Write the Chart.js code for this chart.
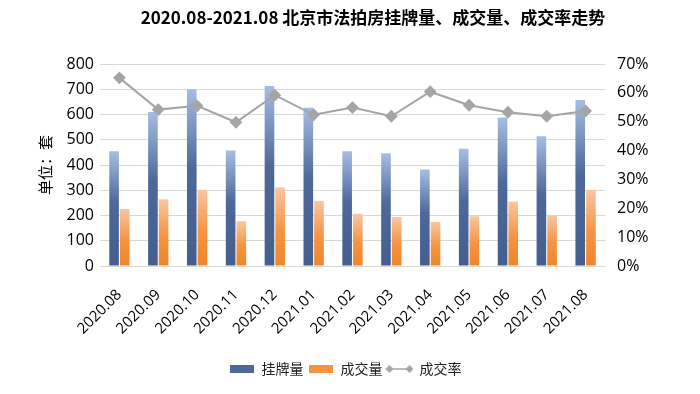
<!DOCTYPE html>
<html><head><meta charset="utf-8">
<script src="https://cdn.jsdelivr.net/npm/chart.js@4"></script>
<style>html,body{margin:0;padding:0;background:#fff}#wrap{width:700px;height:394px}</style>
</head><body><div id="wrap"><canvas id="c" width="700" height="394"></canvas></div>
<script>
const categories = ["2020.08","2020.09","2020.10","2020.11","2020.12","2021.01","2021.02","2021.03","2021.04","2021.05","2021.06","2021.07","2021.08"];
const listed = [454, 610, 700, 457, 713, 627, 454, 447, 382, 464, 588, 514, 657];
const sold = [226, 264, 302, 177, 311, 258, 207, 194, 175, 197, 255, 201, 302];
const rate = [0.652, 0.542, 0.555, 0.498, 0.592, 0.524, 0.549, 0.519, 0.604, 0.557, 0.533, 0.519, 0.537];
const leftTicks = [0,100,200,300,400,500,600,700,800];
const rightTicks = [0,0.1,0.2,0.3,0.4,0.5,0.6,0.7];
const titleText = '2020.08-2021.08 北京市法拍房挂牌量、成交量、成交率走势';
const yTitleText = '单位：套';

const CJK = '"Noto Sans CJK SC", "Noto Sans", sans-serif';
const NUM = '"Open Sans", "Noto Sans", sans-serif';

function barGrad(stops){
  return (ctx)=>{
    const chart = ctx.chart;
    const ys = chart.scales && chart.scales.y;
    if(!ys || ctx.raw === undefined) return stops[1][1];
    const top = ys.getPixelForValue(ctx.raw), base = ys.getPixelForValue(0);
    if(!isFinite(top) || !isFinite(base) || base===top) return stops[1][1];
    const g = chart.ctx.createLinearGradient(0, top, 0, base);
    stops.forEach(s=>g.addColorStop(s[0], s[1]));
    return g;
  };
}
const blueStops = [[0,'#a6bde3'],[0.45,'#4d6899'],[1,'#445e8e']];
const orangeStops = [[0,'#f8c7a0'],[0.55,'#f49442'],[1,'#f08526']];

function swatch(w,h,fn){const c=document.createElement('canvas');c.width=w;c.height=h;fn(c.getContext('2d'),w,h);return c;}
const blueSw = swatch(24,8,(g,w,h)=>{g.fillStyle='#4d6899';g.fillRect(0,0,w,h);});
const orSw = swatch(24,8,(g,w,h)=>{g.fillStyle='#f39340';g.fillRect(0,0,w,h);});
const lineSw = swatch(28,10,(g,w,h)=>{g.strokeStyle='#a5a5a5';g.lineWidth=1.5;g.beginPath();g.moveTo(3,h/2);g.lineTo(w-3,h/2);g.stroke();
  g.fillStyle='#a5a5a5';[4,w-4].forEach(x=>{g.beginPath();g.moveTo(x,h/2-4);g.lineTo(x+4,h/2);g.lineTo(x,h/2+4);g.lineTo(x-4,h/2);g.closePath();g.fill();});});

const textPlugin = {
  id:'texts',
  afterDraw(chart){
    const c = chart.ctx, a = chart.chartArea;
    c.save();
    c.font = 'bold 17px '+CJK; c.fillStyle='#000'; c.textAlign='center'; c.textBaseline='middle';
    c.fillText(titleText,373,18);
    c.translate(45,(a.top+a.bottom)/2); c.rotate(-Math.PI/2);
    c.font = '15px '+CJK;
    c.fillText(yTitleText,0,0); c.restore();
  }
};

new Chart(document.getElementById('c'),{
  data:{
    labels:categories,
    datasets:[
      {type:'line',label:'成交率',data:rate,yAxisID:'y2',borderColor:'#a5a5a5',backgroundColor:'#a5a5a5',borderWidth:2,
        pointStyle:'rectRot',pointRadius:5,pointBackgroundColor:'#a5a5a5',pointBorderColor:'#a5a5a5',order:0},
      {type:'bar',label:'挂牌量',data:listed,yAxisID:'y',backgroundColor:barGrad(blueStops),barPercentage:0.9,categoryPercentage:0.55,order:1},
      {type:'bar',label:'成交量',data:sold,yAxisID:'y',backgroundColor:barGrad(orangeStops),barPercentage:0.9,categoryPercentage:0.55,order:1}
    ]
  },
  options:{
    responsive:false,animation:false,devicePixelRatio:1,
    layout:{padding:{left:20,right:30,top:64,bottom:8}},
    plugins:{
      title:{display:false},
      legend:{position:'bottom',
        labels:{usePointStyle:true,pointStyleWidth:26,boxHeight:8,padding:4,color:'#222',font:{family:CJK,size:14},
          generateLabels(chart){
            return [
              {text:'挂牌量',pointStyle:blueSw,fillStyle:'#4d6899',strokeStyle:'#4d6899',lineWidth:0,datasetIndex:1,fontColor:'#222'},
              {text:'成交量',pointStyle:orSw,fillStyle:'#f39340',strokeStyle:'#f39340',lineWidth:0,datasetIndex:2,fontColor:'#222'},
              {text:'成交率',pointStyle:lineSw,fillStyle:'#a5a5a5',strokeStyle:'#a5a5a5',lineWidth:0,datasetIndex:0,fontColor:'#222'}
            ];
          }}},
      tooltip:{enabled:false}
    },
    scales:{
      x:{grid:{display:false},border:{display:false},
        ticks:{color:'#000',font:{family:NUM,size:15},maxRotation:45,minRotation:45,padding:12},
        afterFit(s){s.height=92;}},
      y:{position:'left',min:0,max:800,afterBuildTicks(s){s.ticks=leftTicks.map(v=>({value:v}));},
        grid:{color:'#d9d9d9',lineWidth:1,drawTicks:false},border:{display:false},
        ticks:{color:'#000',font:{family:NUM,size:16},padding:6},
        afterFit(s){s.width=80;}},
      y2:{position:'right',min:0,max:0.7,afterBuildTicks(s){s.ticks=rightTicks.map(v=>({value:v}));},
        grid:{display:false,drawTicks:false},border:{display:false},
        ticks:{color:'#000',font:{family:NUM,size:16},padding:12,callback:v=>Math.round(v*100)+'%'},
        afterFit(s){s.width=65;}}
    }
  },
  plugins:[textPlugin]
});
</script></body></html>
